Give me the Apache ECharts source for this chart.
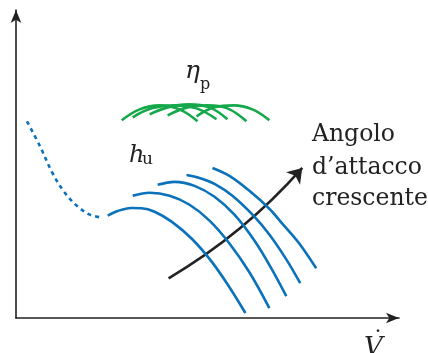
<!DOCTYPE html>
<html>
<head>
<meta charset="utf-8">
<script src="https://cdn.jsdelivr.net/npm/echarts@6/dist/echarts.min.js"></script>
<style>
  html, body { margin: 0; padding: 0; background: #ffffff; }
  #chart { width: 428px; height: 353px; }
</style>
</head>
<body>
<div id="chart"></div>
<script>
// Sketch of available power h_u and propeller efficiency eta_p versus flight speed,
// one curve per blade pitch (angle of attack). Units are arbitrary sketch units.

const xRange = [0, 384];
const yRange = [0, 310];

// dotted branch of the first power curve (low speed region)
const hDashed = [[11, 198], [24, 173], [37, 145], [49, 126], [61, 113], [74, 104], [87, 101]];

// available-power curves, increasing angle of attack
const hCurve1 = [[92, 103], [100, 107], [108, 109.5], [116, 110.7], [126, 110.5], [139, 107], [156, 97], [176, 80], [196, 57], [214, 31], [230, 5]];
const hCurve2 = [[117, 123], [134, 126], [154, 123], [174, 114], [194, 98], [214, 75], [234, 46], [254, 10]];
const hCurve3 = [[142, 134], [159, 137], [179, 133], [199, 122], [219, 104], [239, 78], [256, 50], [271, 22]];
const hCurve4 = [[171, 144], [184, 141], [199, 135], [217, 123], [239, 102], [254, 84], [271, 59], [285, 35]];
const hCurve5 = [[197, 151], [214, 143], [234, 128], [254, 110], [267, 95], [284, 75], [301, 50]];

// propeller efficiency arcs
const etaArc1 = [[106, 199], [124, 210], [144, 214], [164, 210], [182, 198]];
const etaArc2 = [[117, 202], [136, 211], [159, 214], [181, 211], [201, 200]];
const etaArc3 = [[134, 205], [152, 212], [173, 215], [194, 212], [212, 200]];
const etaArc4 = [[152, 204], [172, 212], [192, 214], [212, 211], [231, 198]];
const etaArc5 = [[181, 203], [199, 212], [218, 214], [237, 210], [254, 199]];

// arrow showing the direction of increasing angle of attack
const trendArrow = [[153, 40], [287, 151]];

const hCurves = [hCurve1, hCurve2, hCurve3, hCurve4, hCurve5];
const etaArcs = [etaArc1, etaArc2, etaArc3, etaArc4, etaArc5];

const BLUE = '#0a71bb';
const GREEN = '#14a84a';
const INK = '#222222';
const SERIF = '"DejaVu Serif", serif';

const series = [];

series.push({
  type: 'line',
  data: hDashed,
  smooth: 0.35,
  symbol: 'none',
  lineStyle: { color: BLUE, width: 2.6, type: [4, 4], cap: 'butt' },
  silent: true
});

hCurves.forEach(function (c) {
  series.push({
    type: 'line',
    data: c,
    smooth: 0.35,
    symbol: 'none',
    lineStyle: { color: BLUE, width: 2.6 },
    silent: true
  });
});

etaArcs.forEach(function (c) {
  series.push({
    type: 'line',
    data: c,
    smooth: 0.4,
    symbol: 'none',
    lineStyle: { color: GREEN, width: 2.6 },
    silent: true
  });
});

series.push({
  type: 'lines',
  coordinateSystem: 'cartesian2d',
  data: [{ coords: trendArrow }],
  symbol: ['none', 'arrow'],
  symbolSize: 14,
  lineStyle: { color: INK, width: 2.6, curveness: -0.08, opacity: 1 },
  silent: true
});

const chart = echarts.init(document.getElementById('chart'), null, { renderer: 'canvas' });

chart.setOption({
  animation: false,
  backgroundColor: '#ffffff',
  grid: { left: 16, right: 29, top: 10, bottom: 35 },
  xAxis: {
    type: 'value',
    min: xRange[0], max: xRange[1],
    axisLine: { show: true, symbol: ['none', 'arrow'], symbolSize: [8, 13], lineStyle: { color: INK, width: 1.6 } },
    axisTick: { show: false }, axisLabel: { show: false }, splitLine: { show: false }
  },
  yAxis: {
    type: 'value',
    min: yRange[0], max: yRange[1],
    axisLine: { show: true, symbol: ['none', 'arrow'], symbolSize: [8, 13], lineStyle: { color: INK, width: 1.6 } },
    axisTick: { show: false }, axisLabel: { show: false }, splitLine: { show: false }
  },
  series: series,
  graphic: [
    { type: 'text', left: 185, top: 59, style: { text: 'η', font: 'italic 25px ' + SERIF, fill: INK } },
    { type: 'text', left: 200, top: 77, style: { text: 'p', font: '16px ' + SERIF, fill: INK } },
    { type: 'text', left: 129, top: 144, style: { text: 'h', font: 'italic 24px ' + SERIF, fill: INK } },
    { type: 'text', left: 142, top: 151, style: { text: 'u', font: '17px ' + SERIF, fill: INK } },
    { type: 'text', left: 312, top: 123, style: { text: 'Angolo', font: '23.5px ' + SERIF, fill: INK } },
    { type: 'text', left: 312, top: 156, style: { text: 'd’attacco', font: '23.5px ' + SERIF, fill: INK } },
    { type: 'text', left: 312, top: 187, style: { text: 'crescente', font: '23.5px ' + SERIF, fill: INK } },
    { type: 'text', left: 364, top: 335, style: { text: 'V', font: 'italic 26px ' + SERIF, fill: INK } },
    { type: 'text', left: 372, top: 330, style: { text: '˙', font: '24px ' + SERIF, fill: INK } }
  ]
});
</script>
</body>
</html>
